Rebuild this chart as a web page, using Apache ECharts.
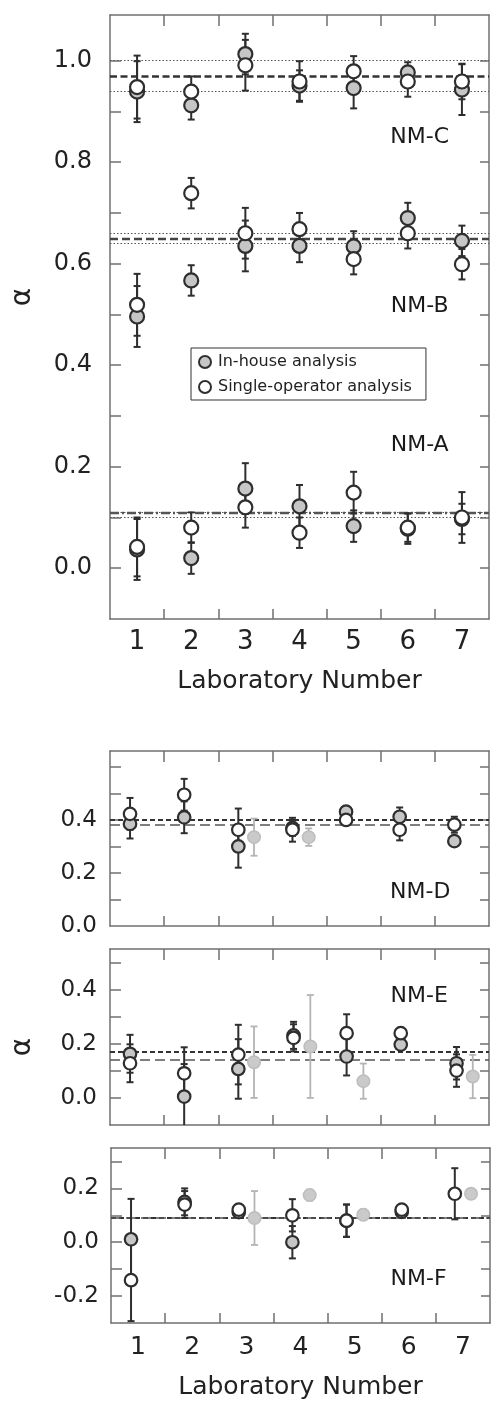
<!DOCTYPE html>
<html>
<head>
<meta charset="utf-8">
<script src="https://cdn.jsdelivr.net/npm/echarts@6/dist/echarts.min.js"></script>
<style>html,body{margin:0;padding:0;background:#fff;}#c{width:491px;height:1402px;}</style>
</head>
<body>
<div id="c"></div>
<script>
// ---------- data ----------
const labs = [1, 2, 3, 4, 5, 6, 7];
const labTicks = [1.5, 2.5, 3.5, 4.5, 5.5, 6.5];

// Top panel (NM-A, NM-B, NM-C) – points at integer lab numbers
const inHouseC = [0.939, 0.912, 1.013, 0.951, 0.946, 0.977, 0.943];
const inHouseCErr = [0.06, 0.028, 0.04, 0.03, 0.04, 0.02, 0.05];
const singleC = [0.948, 0.939, 0.991, 0.959, 0.979, 0.959, 0.959];
const singleCErr = [0.062, 0.03, 0.05, 0.04, 0.03, 0.03, 0.035];
const inHouseB = [0.496, 0.567, 0.635, 0.635, 0.634, 0.690, 0.645];
const inHouseBErr = [0.06, 0.03, 0.05, 0.032, 0.03, 0.03, 0.03];
const singleB = [0.519, 0.739, 0.660, 0.668, 0.609, 0.660, 0.599];
const singleBErr = [0.061, 0.03, 0.05, 0.032, 0.03, 0.03, 0.03];
const inHouseA = [0.037, 0.020, 0.157, 0.122, 0.083, 0.078, 0.097];
const inHouseAErr = [0.06, 0.031, 0.05, 0.042, 0.031, 0.03, 0.03];
const singleA = [0.042, 0.080, 0.120, 0.070, 0.149, 0.080, 0.100];
const singleAErr = [0.058, 0.03, 0.04, 0.03, 0.041, 0.028, 0.05];
const refC = {mean: 0.969, lo: 0.939, hi: 0.999};
const refB = {mean: 0.649, lo: 0.636, hi: 0.662};
const refA = {mean: 0.108, lo: 0.105, hi: 0.112};
const topTicks = [0, 0.1, 0.2, 0.3, 0.4, 0.5, 0.6, 0.7, 0.8, 0.9, 1.0];
const topLabels = [0, 0.2, 0.4, 0.6, 0.8, 1.0];

// NM-D
const xD = [0.87, 1.87, 2.87, 3.87, 4.86, 5.85, 6.86];
const inHouseD = [0.385, 0.41, 0.30, 0.37, 0.431, 0.412, 0.32];
const inHouseDErr = [0.055, 0.06, 0.08, 0.03, 0.0, 0.035, 0.0];
const singleD = [0.423, 0.495, 0.363, 0.363, 0.40, 0.363, 0.382];
const singleDErr = [0.06, 0.06, 0.08, 0.045, 0.0, 0.04, 0.03];
const xDLight = [3.16, 4.17];
const lightD = [0.335, 0.335];
const lightDErr = [0.07, 0.033];
const refD = [0.397, 0.375];
const dTicks = [0.1, 0.2, 0.3, 0.4, 0.5, 0.6];
const dLabels = [0, 0.2, 0.4];

// NM-E
const xE = [0.87, 1.87, 2.87, 3.89, 4.87, 5.87, 6.9];
const inHouseE = [0.163, 0.005, 0.107, 0.231, 0.153, 0.197, 0.128];
const inHouseEErr = [0.07, 0.12, 0.11, 0.05, 0.07, 0.02, 0.06];
const singleE = [0.128, 0.091, 0.160, 0.222, 0.239, 0.239, 0.101];
const singleEErr = [0.07, 0.096, 0.11, 0.05, 0.07, 0.02, 0.06];
const xELight = [3.16, 4.2, 5.18, 7.2];
const lightE = [0.132, 0.19, 0.062, 0.079];
const lightEErr = [0.132, 0.19, 0.065, 0.08];
const refE = [0.167, 0.142];
const eTicks = [0, 0.1, 0.2, 0.3, 0.4, 0.5];
const eLabels = [0, 0.2, 0.4];

// NM-F
const xF = [0.87, 1.86, 2.86, 3.85, 4.85, 5.87, 6.85];
const inHouseF = [0.011, 0.15, 0.112, 0.0, 0.08, 0.113, null];
const inHouseFErr = [0.15, 0.05, 0.0, 0.06, 0.06, 0.0, 0];
const singleF = [-0.141, 0.14, 0.121, 0.1, 0.08, 0.121, 0.18];
const singleFErr = [0.152, 0.05, 0.0, 0.06, 0.06, 0.0, 0.095];
const xFLight = [3.15, 4.17, 5.16, 7.15];
const lightF = [0.09, 0.175, 0.102, 0.18];
const lightFErr = [0.1, 0.02, 0.02, 0.0];
const refF = [0.09, 0.087];
const fTicks = [-0.2, -0.1, 0, 0.1, 0.2, 0.3];
const fLabels = [-0.2, 0, 0.2];

const panelLabels = [
  {g: 0, name: 'NM-C', pos: [6.22, 0.850]},
  {g: 0, name: 'NM-B', pos: [6.22, 0.517]},
  {g: 0, name: 'NM-A', pos: [6.22, 0.243]},
  {g: 1, name: 'NM-D', pos: [6.23, 0.129]},
  {g: 2, name: 'NM-E', pos: [6.21, 0.375]},
  {g: 3, name: 'NM-F', pos: [6.18, -0.138]}
];

// ---------- styling helpers ----------
const FONT = 'DejaVu Sans';
const FRAME = '#707070';
const DARK = '#2e2e2e';
const GRAY_FILL = '#c6c6c6';
const LIGHT_FILL = '#cacaca';
const LIGHT_ERR = '#b4b4b4';
const IN_HOUSE = 'In-house analysis';
const SINGLE = 'Single-operator analysis';

const grids = [
  {left: 110, top: 15, width: 379, height: 604},
  {left: 110, top: 751, width: 379, height: 175},
  {left: 110, top: 949, width: 379, height: 176},
  {left: 111, top: 1148, width: 379, height: 175}
];
const yRanges = [[-0.1, 1.09], [0, 0.66], [-0.1, 0.55], [-0.3, 0.35]];
const yTickSets = [topTicks, dTicks, eTicks, fTicks];
const yLabelSets = [topLabels, dLabels, eLabels, fLabels];
const yLabelFont = [24, 23, 23, 23];
const yLabelMargin = [18, 13, 13, 12];
const markerSize = [14, 12.5, 12.5, 12.5];

const xAxes = [], yAxes = [];
grids.forEach((gr, g) => {
  const showX = g === 0 || g === 3;
  const lineStyle = {color: FRAME, width: 1.5};
  xAxes.push({
    type: 'value', gridIndex: g, position: 'bottom', min: 0.5, max: 7.5,
    axisLine: {show: true, onZero: false, lineStyle},
    axisTick: {show: true, inside: true, length: 10, customValues: labTicks, lineStyle: {color: FRAME, width: 1.5}},
    axisLabel: {show: showX, customValues: labs, margin: g === 0 ? 10 : 12, fontFamily: FONT, fontSize: g === 0 ? 26 : 25, color: '#222'},
    splitLine: {show: false},
    name: showX ? 'Laboratory Number' : '', nameLocation: 'middle', nameGap: g === 0 ? 50 : 52,
    nameTextStyle: {fontFamily: FONT, fontSize: 25, color: '#222'}
  });
  xAxes.push({
    type: 'value', gridIndex: g, position: 'top', min: 0.5, max: 7.5,
    axisLine: {show: true, onZero: false, lineStyle},
    axisTick: {show: true, inside: true, length: 11, customValues: labTicks, lineStyle: {color: FRAME, width: 1.5}},
    axisLabel: {show: false}, splitLine: {show: false}
  });
  yAxes.push({
    type: 'value', gridIndex: g, position: 'left', min: yRanges[g][0], max: yRanges[g][1],
    axisLine: {show: true, onZero: false, lineStyle},
    axisTick: {show: true, inside: true, length: 11, customValues: yTickSets[g], lineStyle: {color: FRAME, width: 1.5}},
    axisLabel: {show: true, customValues: yLabelSets[g], margin: yLabelMargin[g], fontFamily: FONT, fontSize: yLabelFont[g], color: '#222',
      formatter: v => Number(v).toFixed(1)},
    splitLine: {show: false}
  });
  yAxes.push({
    type: 'value', gridIndex: g, position: 'right', min: yRanges[g][0], max: yRanges[g][1],
    axisLine: {show: true, onZero: false, lineStyle},
    axisTick: {show: true, inside: true, length: 9, customValues: yTickSets[g], lineStyle: {color: FRAME, width: 1.5}},
    axisLabel: {show: false}, splitLine: {show: false}
  });
});

function errRender(color, width, cap) {
  return function (params, api) {
    const x = api.value(0), lo = api.value(1), hi = api.value(2);
    const p1 = api.coord([x, hi]), p2 = api.coord([x, lo]);
    const st = {stroke: color, lineWidth: width};
    return {type: 'group', children: [
      {type: 'line', shape: {x1: p1[0], y1: p1[1], x2: p2[0], y2: p2[1]}, style: st},
      {type: 'line', shape: {x1: p1[0] - cap, y1: p1[1], x2: p1[0] + cap, y2: p1[1]}, style: st},
      {type: 'line', shape: {x1: p2[0] - cap, y1: p2[1], x2: p2[0] + cap, y2: p2[1]}, style: st}
    ]};
  };
}
function errSeries(g, xs, ys, es, color, width) {
  const data = [];
  xs.forEach((x, i) => { if (ys[i] != null && es[i] > 0) data.push([x, ys[i] - es[i], ys[i] + es[i]]); });
  return {type: 'custom', xAxisIndex: 2 * g, yAxisIndex: 2 * g, clip: true, silent: true, z: 2,
    encode: {x: 0, y: [1, 2]}, data, renderItem: errRender(color, width, 3.5)};
}
function ptSeries(name, g, xs, ys, itemStyle, z, markLine) {
  const data = [];
  xs.forEach((x, i) => { if (ys[i] != null) data.push([x, ys[i]]); });
  const s = {type: 'scatter', name, xAxisIndex: 2 * g, yAxisIndex: 2 * g, data, symbol: 'circle', symbolSize: markerSize[g],
    itemStyle, z, silent: true};
  if (markLine) s.markLine = markLine;
  return s;
}
function refLines(items) {
  return {silent: true, symbol: 'none', z: 1, label: {show: false}, animation: false,
    data: items.map(it => ({yAxis: it.v, lineStyle: it.style}))};
}
const dotted = {color: '#555', width: 1.2, type: [1.5, 2]};
const grayStyle = {color: GRAY_FILL, borderColor: DARK, borderWidth: 2.2, opacity: 1};
const whiteStyle = {color: '#fff', borderColor: DARK, borderWidth: 2.2, opacity: 1};
const lightStyle = {color: LIGHT_FILL, borderColor: '#bdbdbd', borderWidth: 1.5, opacity: 1};
const shortDash = {color: '#333', width: 2, type: [5, 3]};
const longDash = {color: '#555', width: 1.6, type: [10, 5]};

const topX = labs.concat(labs, labs);
const series = [];
// top panel
series.push(errSeries(0, topX, inHouseC.concat(inHouseB, inHouseA), inHouseCErr.concat(inHouseBErr, inHouseAErr), DARK, 2));
series.push(errSeries(0, topX, singleC.concat(singleB, singleA), singleCErr.concat(singleBErr, singleAErr), DARK, 2));
series.push(ptSeries(IN_HOUSE, 0, topX, inHouseC.concat(inHouseB, inHouseA), grayStyle, 3, refLines([
  {v: refC.hi, style: dotted}, {v: refC.lo, style: dotted}, {v: refC.mean, style: {color: '#333', width: 2.6, type: [7, 3.5]}},
  {v: refB.hi, style: dotted}, {v: refB.lo, style: dotted}, {v: refB.mean, style: {color: '#444', width: 2.4, type: [8, 4]}},
  {v: refA.hi, style: dotted}, {v: refA.lo, style: dotted}, {v: refA.mean, style: {color: '#555', width: 2.4, type: [9, 3, 2, 3]}}
])));
series.push(ptSeries(SINGLE, 0, topX, singleC.concat(singleB, singleA), whiteStyle, 4));

// bottom panels
const bottom = [
  {g: 1, x: xD, ih: inHouseD, ihE: inHouseDErr, s: singleD, sE: singleDErr, xl: xDLight, l: lightD, lE: lightDErr, ref: refD},
  {g: 2, x: xE, ih: inHouseE, ihE: inHouseEErr, s: singleE, sE: singleEErr, xl: xELight, l: lightE, lE: lightEErr, ref: refE},
  {g: 3, x: xF, ih: inHouseF, ihE: inHouseFErr, s: singleF, sE: singleFErr, xl: xFLight, l: lightF, lE: lightFErr, ref: refF}
];
bottom.forEach(p => {
  series.push(errSeries(p.g, p.xl, p.l, p.lE, LIGHT_ERR, 1.8));
  series.push(errSeries(p.g, p.x, p.ih, p.ihE, DARK, 2));
  series.push(errSeries(p.g, p.x, p.s, p.sE, DARK, 2));
  series.push(ptSeries('Light', p.g, p.xl, p.l, lightStyle, 3, refLines([
    {v: p.ref[0], style: shortDash}, {v: p.ref[1], style: longDash}
  ])));
  series.push(ptSeries(IN_HOUSE, p.g, p.x, p.ih, grayStyle, 3));
  series.push(ptSeries(SINGLE, p.g, p.x, p.s, whiteStyle, 4));
});

// panel name labels
[0, 1, 2, 3].forEach(g => {
  series.push({
    type: 'scatter', xAxisIndex: 2 * g, yAxisIndex: 2 * g, symbolSize: 1, silent: true, z: 5,
    itemStyle: {color: 'rgba(0,0,0,0)', opacity: 1},
    data: panelLabels.filter(p => p.g === g).map(p => ({name: p.name, value: p.pos})),
    label: {show: true, position: 'inside', formatter: '{b}', fontFamily: FONT, fontSize: 22, color: '#1a1a1a', opacity: 1}
  });
});

const option = {
  animation: false,
  backgroundColor: '#fff',
  grid: grids,
  xAxis: xAxes,
  yAxis: yAxes,
  legend: {
    data: [IN_HOUSE, SINGLE], orient: 'vertical', left: 191, top: 348, icon: 'circle',
    itemWidth: 12, itemHeight: 12, itemGap: 9, padding: [6, 14, 5, 7],
    borderColor: '#333', borderWidth: 1, backgroundColor: '#fff', selectedMode: false,
    textStyle: {fontFamily: FONT, fontSize: 16, color: '#222', padding: [0, 0, 0, 2]}
  },
  graphic: [
    {type: 'text', x: 23, y: 297, rotation: Math.PI / 2, style: {text: 'α', fontFamily: FONT, fontSize: 28, fill: '#222', align: 'center', verticalAlign: 'middle'}},
    {type: 'text', x: 23, y: 1047, rotation: Math.PI / 2, style: {text: 'α', fontFamily: FONT, fontSize: 28, fill: '#222', align: 'center', verticalAlign: 'middle'}}
  ],
  series
};
const chart = echarts.init(document.getElementById('c'), null, {renderer: 'canvas'});
chart.setOption(option);
</script>
</body>
</html>
